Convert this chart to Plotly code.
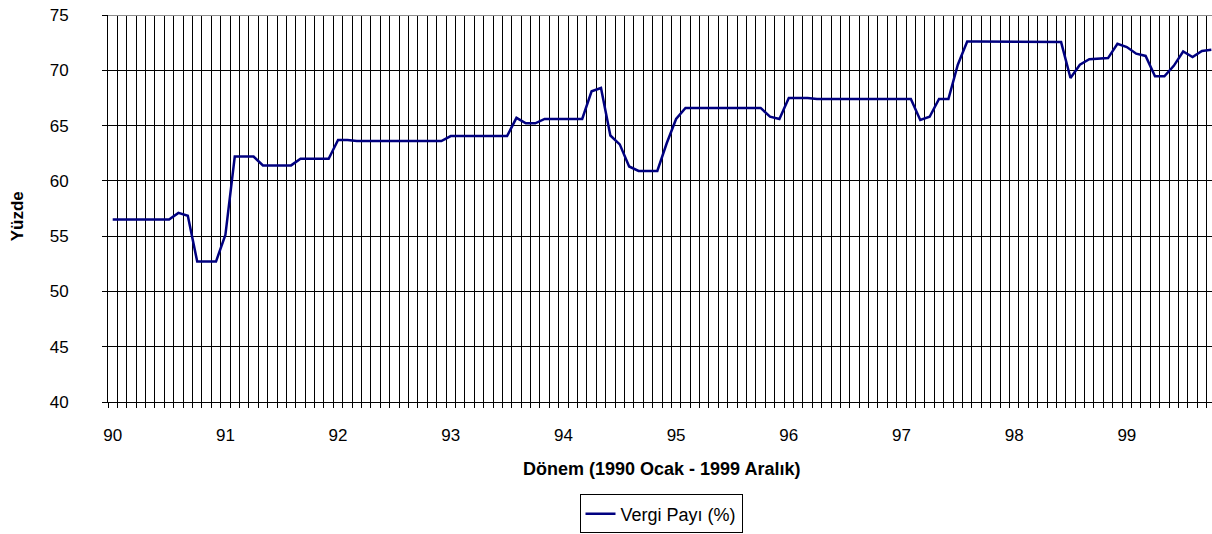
import plotly.graph_objects as go

# Monthly tax share (%), January 1990 onwards
vergi_payi = [
    56.5, 56.5, 56.5, 56.5, 56.5, 56.5, 56.5, 57.1, 56.85, 52.7, 52.7, 52.7,   # 1990
    55.1, 62.2, 62.2, 62.2, 61.4, 61.4, 61.4, 61.4, 62.0, 62.0, 62.0, 62.0,     # 1991
    63.7, 63.7, 63.6, 63.6, 63.6, 63.6, 63.6, 63.6, 63.6, 63.6, 63.6, 63.6,     # 1992
    64.05, 64.05, 64.05, 64.05, 64.05, 64.05, 64.05, 65.7, 65.2, 65.2, 65.6, 65.6,  # 1993
    65.6, 65.6, 65.6, 68.1, 68.4, 64.1, 63.3, 61.3, 60.9, 60.9, 60.9, 63.4,     # 1994
    65.6, 66.6, 66.6, 66.6, 66.6, 66.6, 66.6, 66.6, 66.6, 66.6, 65.8, 65.6,     # 1995
    67.5, 67.5, 67.5, 67.4, 67.4, 67.4, 67.4, 67.4, 67.4, 67.4, 67.4, 67.4,     # 1996
    67.4, 67.4, 65.5, 65.8, 67.4, 67.4, 70.5, 72.6, 72.6, 72.6, 72.6, 72.6,     # 1997
    72.55, 72.55, 72.55, 72.55, 72.55, 72.55, 69.3, 70.5, 71.0, 71.05, 71.1, 72.4,  # 1998
    72.1, 71.5, 71.3, 69.45, 69.45, 70.4, 71.7, 71.2, 71.75, 71.85,             # 1999
]
year_labels = ["90", "91", "92", "93", "94", "95", "96", "97", "98", "99"]
y_ticks = [40, 45, 50, 55, 60, 65, 70, 75]

month_index = list(range(len(vergi_payi)))
year_positions = [12 * k for k in range(len(year_labels))]

FONT = "Arial, 'Liberation Sans', sans-serif"

# plot area in pixels
LEFT, TOP, BOTTOM = 108, 15, 410.5
PLOT_W = 1212 - LEFT
PLOT_H = BOTTOM - TOP

fig = go.Figure()
fig.add_trace(go.Scatter(
    x=month_index,
    y=vergi_payi,
    mode="lines",
    name="Vergi Payı (%)",
    line=dict(color="#000080", width=2.5),
))

fig.update_layout(
    width=1212,
    height=534,
    margin=dict(l=LEFT, r=0, t=TOP, b=534 - BOTTOM),
    paper_bgcolor="white",
    plot_bgcolor="white",
    font=dict(family=FONT, size=17, color="black"),
    showlegend=True,
    legend=dict(
        orientation="h",
        x=(661 - LEFT) / PLOT_W, xanchor="center",
        y=(BOTTOM - 505) / PLOT_H, yanchor="top",
        bordercolor="black", borderwidth=1,
        bgcolor="white",
        font=dict(family=FONT, size=18, color="black"),
        itemwidth=30,
    ),
    xaxis=dict(
        range=[-0.5, 117.07],
        tickmode="array",
        tickvals=year_positions,
        ticktext=year_labels,
        ticks="",
        showgrid=False,
        zeroline=False,
        showline=True,
        linecolor="black",
        linewidth=1,
        ticklabelstandoff=18,
        tickfont=dict(size=17),
        minor=dict(
            tick0=0.5, dtick=1,
            showgrid=True, gridcolor="black", gridwidth=1,
            ticks="outside", ticklen=5, tickcolor="black", tickwidth=1,
        ),
    ),
    yaxis=dict(
        range=[40, 75],
        tickmode="array",
        tickvals=y_ticks,
        ticks="outside",
        ticklen=5,
        tickcolor="black",
        showgrid=True,
        gridcolor="black",
        gridwidth=1,
        zeroline=False,
        showline=True,
        linecolor="black",
        linewidth=1,
        ticklabelstandoff=30,
        tickfont=dict(size=17),
    ),
    annotations=[
        dict(
            text="<b>Dönem (1990 Ocak - 1999 Aralık)</b>",
            xref="paper", yref="paper",
            x=(661 - LEFT) / PLOT_W, y=(BOTTOM - 479) / PLOT_H,
            xanchor="center", yanchor="middle",
            showarrow=False,
            font=dict(family=FONT, size=18, color="black"),
        ),
        dict(
            text="<b>Yüzde</b>",
            xref="paper", yref="paper",
            x=(17 - LEFT) / PLOT_W, y=0.48,
            xanchor="center", yanchor="middle",
            textangle=-90,
            showarrow=False,
            font=dict(family=FONT, size=17, color="black"),
        ),
    ],
    shapes=[
        dict(
            type="line", xref="paper", yref="y",
            x0=0, x1=1, y0=75, y1=75,
            line=dict(color="#8c8c8c", width=2),
            layer="above",
        ),
    ],
)

fig.write_html("out.html")
